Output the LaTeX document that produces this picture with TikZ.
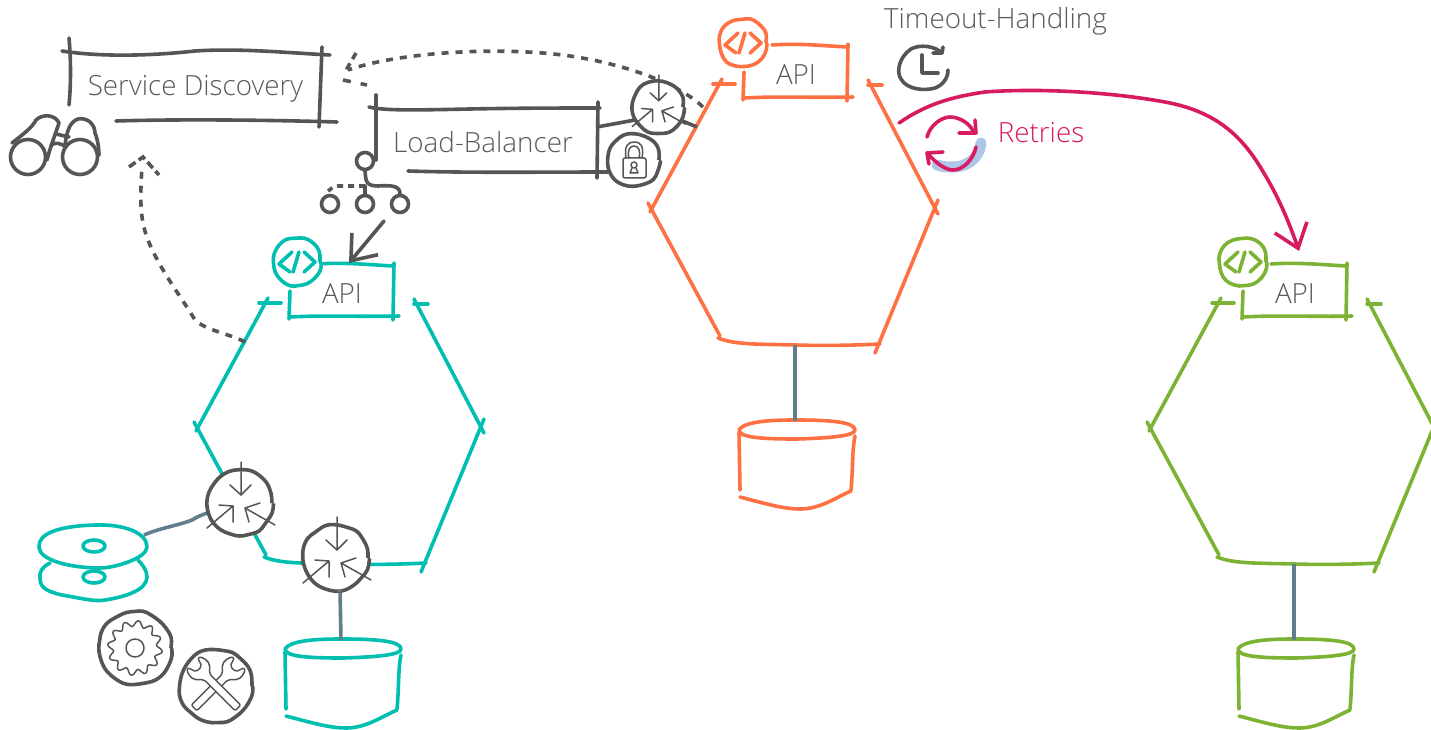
\documentclass[tikz,border=0pt]{standalone}
\usepackage{fontspec}
\setmainfont{Open Sans}[UprightFont=* Light]
\usetikzlibrary{arrows.meta,decorations.pathmorphing}
\definecolor{ink}{HTML}{555555}
\definecolor{txt}{HTML}{5A5A5A}
\definecolor{cOrange}{HTML}{FF7043}
\definecolor{cTeal}{HTML}{00BFB0}
\definecolor{cGreen}{HTML}{7CB335}
\definecolor{cPink}{HTML}{D81B60}
\definecolor{cSlate}{HTML}{5F7F8F}
\definecolor{cBlue}{HTML}{AEC6E8}
\tikzset{
  stroke/.style={line width=3.6pt,line cap=round,line join=round},
  inkline/.style={stroke,draw=ink},
  thinline/.style={line width=1.5pt,draw=ink,line cap=round,line join=round},
  dashline/.style={line width=3.6pt,draw=ink,dash pattern=on 7pt off 7pt},
  stemline/.style={line width=3.6pt,draw=cSlate},
  ringnode/.style={circle,draw=ink,line width=3.6pt,inner sep=0pt,minimum size=#1},
  label/.style={font=\fontsize{27.8}{30}\selectfont,text=txt,inner sep=0pt},
  handcircle/.style={circle,inner sep=0pt,minimum size=#1,draw=ink,line width=3.6pt,fill=white,
    decorate,decoration={random steps,segment length=10pt,amplitude=1.2pt},rounded corners=4pt},
  barb/.style={-{Straight Barb[length=22pt,width=34pt,line width=3.6pt]}}
}
% compress icon: three inward arrows
\newcommand{\compressicon}[4]{%
  \node[handcircle=#4*64pt] (#1) at (#2,#3) {};
  \begin{scope}[shift={(#2,#3)},scale=#4]
    \draw[thinline] (1,-41) -- (1,-8) (-10,-18) -- (1,-8) -- (11,-18);
    \draw[thinline] (-33,25) -- (-7,3) (-21,2) -- (-7,3) -- (-7,19);
    \draw[thinline] (35,22) -- (5,5) (20,0) -- (5,5) -- (9,19);
  \end{scope}}
% service: hexagon, API box, code badge
\newcommand{\service}[5]{%
  \begin{scope}[shift={(#1,#2)},every path/.append style={stroke,draw=#3}]
    \draw (713,84) -- (735,84);
    \draw (722,79) -- (650,212);
    \draw (648,203) -- (720,336);
    \draw (718,338) .. controls (735,345) and (760,344) .. (795,345) .. controls (830,346) and (860,345) .. (880,344);
    \draw (938,200) -- (875,353);
    \draw (868,80) -- (938,214);
    \draw (868,85) -- (882,85);
    \draw (772,45) .. controls (800,43) and (825,46) .. (848,47);
    \draw (848,44) -- (847,101);
    \draw (744,98) .. controls (780,96) and (820,98) .. (853,97);
    \draw (744,72) -- (743,100);
    \coordinate (#4bot) at (795,345);
    \coordinate (#4db) at (795,421);
    \coordinate (#4in) at (803,44);
    \coordinate (#4left) at (703,107);
    \coordinate (#4right) at (899,123);
    \node[label] (#4api) at (796,75) {API};
    % database
    \draw (739,430) .. controls (745,420) and (780,420) .. (797,420) .. controls (830,420) and (855,422) .. (855,430)
       .. controls (855,436) and (830,438) .. (797,439) .. controls (765,439) and (739,438) .. (739,430);
    \draw (739,433) -- (740,490);
    \draw (855,436) .. controls (852,450) and (853,470) .. (851,490);
    \draw (740,497) .. controls (770,505) and (785,509) .. (800,509) .. controls (820,509) and (835,498) .. (851,491);
  \end{scope}
  \node[circle,inner sep=0pt,minimum size=46pt,draw=#3,line width=3.6pt,fill=white,
    decorate,decoration={random steps,segment length=10pt,amplitude=1pt},rounded corners=4pt]
    (#4code) at (#5) {};
  \begin{scope}[shift={(#5)}]
    \draw[stroke,draw=#3] (-5,-10) -- (-18,2) -- (-7,10);
    \draw[stroke,draw=#3] (2,-10) -- (-4,10);
    \draw[stroke,draw=#3] (7,-10) -- (18,0) -- (7,10);
  \end{scope}}
\begin{document}
\begin{tikzpicture}[x=1pt,y=-1pt]
\useasboundingbox (0,0) rectangle (1431,730);
\pgfmathsetseed{11}
\fill[white] (0,0) rectangle (1431,730);

% ---- stems
\coordinate (tstem) at (340,590);
\service{-454}{219}{cTeal}{t}{297,262}
\service{0}{0}{cOrange}{o}{743,43}
\service{499}{219}{cGreen}{g}{1243,262}
\draw[stemline] (obot) -- (odb);
\draw[stemline] (gbot) -- (gdb);
\draw[stemline] (tstem) -- (tdb);

% ---- service discovery box
\draw[inkline] (62,51) .. controls (100,57) and (150,56) .. (195,51) .. controls (240,48) and (290,53) .. (330,55);
\draw[inkline] (69,38) .. controls (71,60) and (71,85) .. (69,105);
\draw[inkline] (322,47) -- (319,127);
\draw[inkline] (116,121) .. controls (180,119) and (270,120) .. (337,122);
\node[label] (sd) at (195.5,88.5) {Service Discovery};

% ---- load balancer box
\draw[inkline] (369,107) .. controls (385,111) and (420,110) .. (470,109) .. controls (520,108) and (570,108) .. (600,108);
\draw[inkline] (376,95) -- (376,160);
\draw[inkline] (598,102) -- (597,178);
\draw[inkline] (408,171) .. controls (470,173) and (540,172) .. (610,172);
\node[label] (lb) at (483,142.5) {Load-Balancer};

% ---- binoculars
\begin{scope}[every path/.append style={inkline}]
  \node[ringnode=35pt] (binl) at (28,157) {};
  \node[ringnode=35pt] (binr) at (80,157) {};
  \draw (12,143) .. controls (22,135) and (32,128) .. (36,120) .. controls (42,114) and (55,114) .. (59,123) .. controls (55,135) and (50,148) .. (47,160);
  \draw (65,145) .. controls (67,130) and (70,122) .. (78,119) .. controls (88,117) and (95,125) .. (95,133) .. controls (98,140) and (99,150) .. (99,155);
  \draw (56,134) -- (69,137);
  \draw (51,145) .. controls (56,142) and (60,143) .. (66,147);
\end{scope}

% ---- load-balancer tree icon
\node[ringnode=17pt] (lbtop) at (365,161) {};
\node[ringnode=17pt] (lba) at (330,204) {};
\node[ringnode=17pt] (lbb) at (365,204) {};
\node[ringnode=17pt] (lbc) at (400,204) {};
\draw[inkline] (lbtop.south) .. controls (366,180) and (365,186) .. (378,186) .. controls (392,185) and (400,186) .. (lbc.north);
\draw[inkline] (365,186) -- (lbb.north);
\draw[dashline,dash pattern=on 6pt off 5pt] (365,186) -- (338,186) .. controls (333,186) and (330,190) .. (328,191);

% ---- connectors
\coordinate (lbout) at (384,221);
\draw[inkline,barb] (lbout) -- (tin);
\coordinate (tleft2) at (245,342);
\draw[dashline] (tleft2) .. controls (230,334) and (205,330) .. (195,320) .. controls (180,295) and (160,270) .. (148,240) .. controls (138,215) and (141,190) .. (142,165);
\draw[dashline,dash pattern=on 8pt off 4pt] (129,167) -- (143,157) -- (159,175);
\coordinate (sdin) at (348,70);
\draw[dashline] (oleft) .. controls (680,85) and (630,65) .. (570,56) .. controls (500,46) and (400,52) .. (sdin);
\draw[dashline,dash pattern=on 7pt off 5pt] (356,53) -- (345,72);
\draw[dashline,dash pattern=on 8pt off 10pt] (343,80) -- (367,85);

% ---- compress + lock on load balancer
\coordinate (lbr) at (597,127);
\coordinate (ohexl) at (697,127);
\draw[inkline,line cap=butt] (lbr) -- (635,120) (680,120) -- (ohexl);
\compressicon{cmpo}{658}{107}{0.78}
\node[handcircle=50pt] (lock) at (634,160) {};
\draw[thinline,rounded corners=2pt] (623,158) rectangle (646,178);
\draw[thinline] (626,158) .. controls (624,146) and (628,142) .. (634,142) .. controls (641,142) and (644,146) .. (642,158);
\draw[thinline] (629,158) .. controls (627,150) and (630,146) .. (634,146) .. controls (638,146) and (641,150) .. (639,158);
\draw[thinline] (634,165) circle[radius=3];
\draw[thinline] (632,168) -- (630,173) -- (638,173) -- (636,168);

% ---- clock
\node[label] (timeout) at (995.5,21.5) {Timeout-Handling};
\coordinate (clock) at (923,67);
\draw[inkline] (942,53) .. controls (935,46) and (920,44) .. (911,49) .. controls (899,57) and (896,72) .. (901,79) .. controls (907,90) and (925,91) .. (935,88) .. controls (943,85) and (948,78) .. (948,70);
\draw[inkline] (943,47) -- (942,53) -- (933,53);
\draw[inkline] (922,55) -- (922,73) -- (938,73);

% ---- retries
\coordinate (rstart) at (981,143);
\coordinate (rend) at (937,165);
\draw[line width=11pt,draw=cBlue,line cap=round] (rstart) .. controls (979,160) and (965,168) .. (950,167) .. controls (945,167) and (940,166) .. (rend);
\draw[stroke,draw=cPink] (927,137) .. controls (930,125) and (942,117) .. (950,117) .. controls (960,117) and (970,124) .. (973,131);
\draw[stroke,draw=cPink] (975,120) -- (976,133) -- (959,133);
\draw[stroke,draw=cPink] (976,147) .. controls (973,160) and (963,170) .. (953,170) .. controls (945,170) and (935,162) .. (929,155);
\draw[stroke,draw=cPink] (943,152) -- (927,153) -- (929,164);
\node[label,text=cPink] (retries) at (1041,133) {Retries};
\coordinate (rarrowend) at (1299,251);
\draw[stroke,draw=cPink,barb] (oright) .. controls (925,105) and (950,97) .. (985,92) .. controls (1040,88) and (1110,92) .. (1165,102) .. controls (1220,112) and (1245,140) .. (1265,175) .. controls (1280,200) and (1290,225) .. (rarrowend);

% ---- teal side: compress, discs, gear, wrench
\compressicon{cmpb}{336}{558}{1}
\draw[stemline] (cmpb.south) ++(3,0) -- (tstem);
\draw[stroke,draw=cTeal] (50,563) .. controls (42,567) and (39,572) .. (40,578) .. controls (40,587) and (45,591) .. (62,595) .. controls (80,598) and (95,602) .. (105,600) .. controls (125,597) and (147,590) .. (147,577) .. controls (147,570) and (142,564) .. (138,560);
\draw[stroke,draw=cTeal,fill=white] (39,547) .. controls (38,533) and (60,526) .. (95,525) .. controls (125,524) and (147,533) .. (147,547) .. controls (147,558) and (115,568) .. (100,568) .. controls (70,568) and (39,560) .. (39,547);
\draw[stroke,draw=cTeal] (94,546) ellipse[x radius=11,y radius=6];
\draw[stroke,draw=cTeal] (94,577) ellipse[x radius=11,y radius=6];
\coordinate (discout) at (144,535);
\draw[stemline] (discout) .. controls (160,528) and (180,525) .. (192,520) .. controls (198,516) and (205,514) .. (212,511);
\compressicon{cmpa}{240}{503}{1}
\node[handcircle=72pt] (gear) at (135,648) {};
\begin{scope}[shift={(135,648)}]
  \draw[thinline] plot[domain=0:360,samples=145,smooth] (\x:{24.5+2.9*sin(12*\x)}) -- cycle;
  \draw[thinline] (0,0) circle[radius=9];
\end{scope}
\node[handcircle=72pt] (tools) at (216,686) {};
\foreach \r in {-45,45}{
  \draw[thinline,fill=white,rounded corners=2pt,shift={(216,686)},rotate=\r]
    (-4,31) -- (-4,-13) -- (-11,-20) .. controls (-12,-27) and (-10,-31) .. (-7,-33) -- (-4,-24) -- (4,-24) -- (7,-33) .. controls (10,-31) and (12,-27) .. (11,-20) -- (4,-13) -- (4,31) -- cycle;
}
\end{tikzpicture}
\end{document}
